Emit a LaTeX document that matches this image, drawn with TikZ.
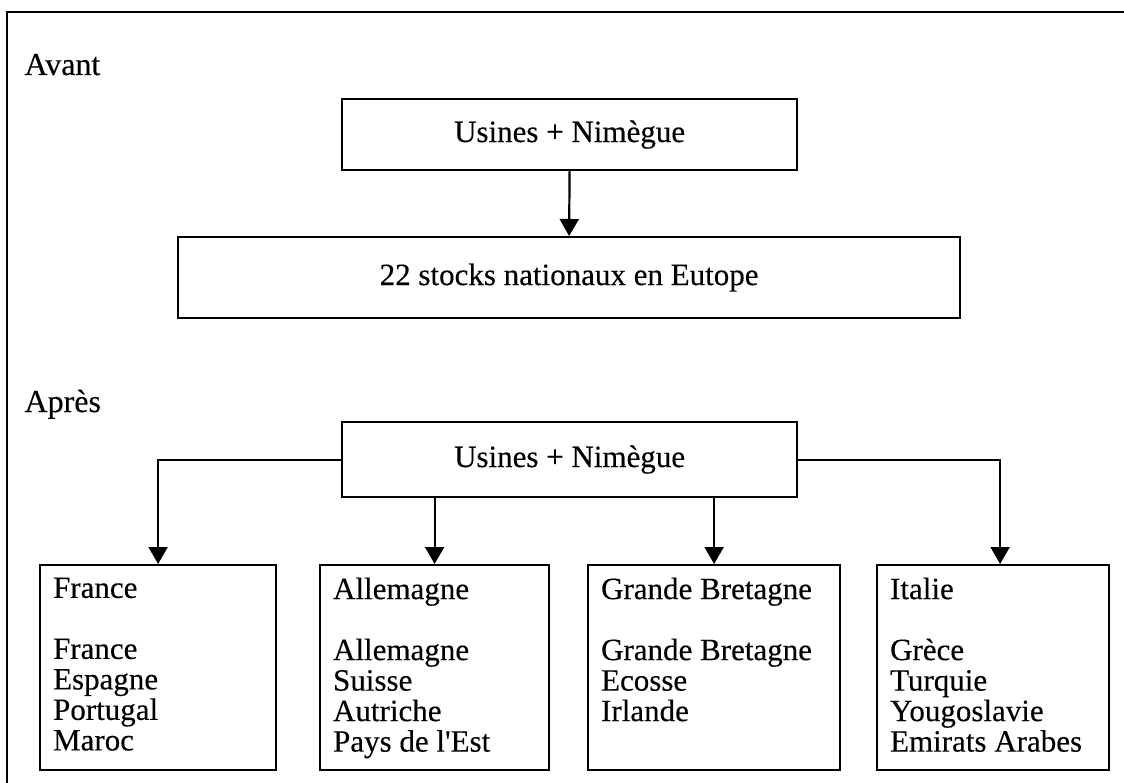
\documentclass[tikz,border=0pt]{standalone}
\usepackage{fontspec}
\setmainfont{Liberation Serif}[FakeBold=0.3]
\usetikzlibrary{arrows.meta}
\begin{document}
\begin{tikzpicture}[x=1pt,y=-1pt,
  every node/.style={font=\fontsize{31}{30.5}\selectfont},
  section/.style={anchor=base west, font=\fontsize{32}{32}\selectfont},
  frame/.style={line width=2.2pt},
  hbox/.style={draw, line width=2.2pt, inner sep=0pt, anchor=north west},
  cbox/.style={draw, line width=2.2pt, inner xsep=13pt, inner ysep=12.5pt, anchor=north west},
  arr/.style={line width=2.2pt, -{Triangle[width=19pt,length=17pt]}}]
\useasboundingbox (0,0) rectangle (1124,783);
% outer frame: top and left edges
\draw[frame] (7,783) -- (7,12) -- (1124,12);

% before
\node[section] (avant) at (21,75) {Avant};
\node[hbox, minimum width=455pt, minimum height=71pt] (usA) at (341,98) {Usines + Nimègue};
\node[hbox, minimum width=782pt, minimum height=81pt] (stocks) at (177,236) {22 stocks nationaux en Eutope};
\draw[arr] (usA.south) -- (stocks.north);

% after
\node[section] (apres) at (21,412) {Après};
\node[hbox, minimum width=455pt, minimum height=75pt] (usB) at (341,421) {Usines + Nimègue};

\node[cbox] (fr) at (39,564) {\parbox[c][180pt][t]{210pt}{France\\[30.5pt]France\\Espagne\\Portugal\\Maroc}};
\node[cbox] (de) at (319,564) {\parbox[c][180pt][t]{203pt}{Allemagne\\[30.5pt]Allemagne\\Suisse\\Autriche\\Pays de l\textquotesingle Est}};
\node[cbox] (gb) at (587,564) {\parbox[c][180pt][t]{226pt}{Grande Bretagne\\[30.5pt]Grande Bretagne\\Ecosse\\Irlande}};
\node[cbox] (it) at (876,564) {\parbox[c][180pt][t]{206pt}{Italie\\[30.5pt]Grèce\\Turquie\\Yougoslavie\\Emirats Arabes}};

\draw[arr] (usB.west) -| (fr.north);
\draw[arr] (usB.south -| de.north) -- (de.north);
\draw[arr] (usB.south -| gb.north) -- (gb.north);
\draw[arr] (usB.east) -| ([xshift=7pt]it.north);
\end{tikzpicture}
\end{document}
